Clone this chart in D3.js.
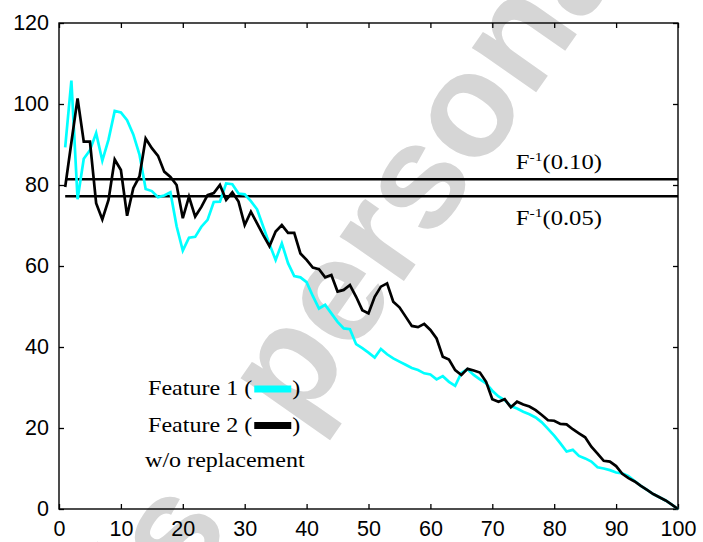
<!DOCTYPE html>
<html><head><meta charset="utf-8">
<script src="https://cdn.jsdelivr.net/npm/d3@7"></script>
<style>body{margin:0;background:#fff}svg{display:block}</style>
</head><body>
<svg id="chart" width="703" height="542"></svg>
<script>
const steps = d3.range(1, 101);
const feature1 = [89.3,105.8,76.5,86.5,88.6,92.8,86.0,91.2,98.3,97.9,
96.0,92.5,87.5,79.0,78.5,77.0,77.4,78.2,69.8,63.8,
67.0,67.2,69.7,71.4,75.8,75.9,80.4,80.2,77.9,77.7,
76.0,74.0,69.7,65.4,61.5,65.6,60.7,57.5,57.2,56.0,
52.6,49.5,50.4,48.3,46.2,44.6,44.4,40.7,39.7,38.6,
37.4,39.5,38.2,37.2,36.4,35.6,34.8,34.3,33.5,33.2,
32.0,32.8,31.4,30.4,33.6,34.5,33.1,32.0,31.0,29.2,
27.8,26.9,25.4,24.8,24.0,23.4,22.6,21.4,19.8,18.1,
16.2,14.2,14.6,13.1,12.5,11.7,10.3,10.0,9.6,9.0,
8.8,8.1,6.9,5.7,4.7,3.7,2.9,2.1,1.1,0];
const feature2 = [79.5,90.5,101.4,90.7,90.7,75.5,71.5,76.3,86.3,83.7,
72.4,79.2,82.1,91.5,89.1,87.2,83.3,82.0,80.0,71.8,
77.1,72.2,74.6,77.5,78.0,80.0,76.3,78.2,75.9,70.1,
73.4,70.5,67.6,64.9,68.5,70.1,68.2,68.2,63.1,61.5,
59.6,59.2,57.2,57.8,53.7,54.1,55.3,52.4,49.1,48.3,
52.4,54.9,55.7,51.2,49.8,47.5,45.2,44.9,45.7,44.2,
42.1,37.6,36.9,34.3,33.1,34.6,34.2,33.7,31.4,27.1,
26.5,27.1,25.1,26.5,25.8,25.3,24.4,23.2,21.9,21.8,
21.0,20.9,19.7,18.7,17.7,15.4,13.7,11.9,11.7,10.6,
8.7,7.6,6.8,5.7,4.7,3.7,2.9,2.1,1.1,0];
const thresholds = [81.4, 77.2];
const thresholdLabels = ["0.10", "0.05"];
const xTicks = [0,10,20,30,40,50,60,70,80,90,100];
const yTicks = [0,20,40,60,80,100,120];
const legendNames = ["Feature 1", "Feature 2"];
const legendNote = "w/o replacement";
const seriesColors = ["#00ffff", "#000000"];
const watermarkWords = ["Author's", "personal copy"];

const svg = d3.select("#chart");
const W = 703, H = 542;
const m = {left: 59, right: 25, top: 23, bottom: 33};
const x = d3.scaleLinear().domain([0, 100]).range([m.left, W - m.right]);
const y = d3.scaleLinear().domain([0, 120]).range([H - m.bottom, m.top]);

// watermark (behind everything)
const wmSize = 148;
const wm = svg.append("g").attr("transform", "translate(299,431) rotate(-55)")
  .attr("font-family", "Liberation Sans, Arial, sans-serif")
  .attr("font-weight", "bold").attr("font-size", wmSize).attr("fill", "#d6d6d6");
wm.append("text").attr("x", 0).text(watermarkWords[1]);
wm.append("text").attr("x", -(0.278 * wmSize + 75)).attr("text-anchor", "end").text(watermarkWords[0]);

const axisFont = "Liberation Sans, Arial, Helvetica, sans-serif";
const serif = "Liberation Serif, Times New Roman, serif";

// axes
const gx = svg.append("g").attr("transform", `translate(0,${H - m.bottom})`)
  .call(d3.axisBottom(x).tickValues(xTicks).tickSize(-5).tickPadding(12));
const gxt = svg.append("g").attr("transform", `translate(0,${m.top})`)
  .call(d3.axisTop(x).tickValues(xTicks).tickSize(-5).tickFormat(""));
const gy = svg.append("g").attr("transform", `translate(${m.left},0)`)
  .call(d3.axisLeft(y).tickValues(yTicks).tickSize(-5).tickPadding(10));
const gyr = svg.append("g").attr("transform", `translate(${W - m.right},0)`)
  .call(d3.axisRight(y).tickValues(yTicks).tickSize(-5).tickFormat(""));
[gx, gxt, gy, gyr].forEach(g => {
  g.select(".domain").remove();
  g.selectAll(".tick line").attr("stroke", "#000").attr("stroke-width", 1.3);
  g.selectAll("text").attr("font-family", axisFont).attr("font-size", 21.5).attr("fill", "#000");
});

// frame
svg.append("rect").attr("x", x(0)).attr("y", y(120))
  .attr("width", x(100) - x(0)).attr("height", y(0) - y(120))
  .attr("fill", "none").attr("stroke", "#000").attr("stroke-width", 1.4);

// threshold lines
thresholds.forEach((t, i) => {
  svg.append("line").attr("x1", x(1)).attr("x2", x(100))
    .attr("y1", y(t)).attr("y2", y(t))
    .attr("stroke", "#000").attr("stroke-width", 2.5);
  const ty = i === 0 ? y(t) - 10 : y(t) + 29;
  const g = svg.append("g").attr("transform", `translate(${x(73.8)},${ty}) scale(1.2,1)`);
  const tx = g.append("text").attr("x", 0).attr("y", 0)
    .attr("font-family", serif).attr("font-size", 20.5).attr("fill", "#000");
  tx.append("tspan").text("F");
  tx.append("tspan").attr("font-size", 13).attr("dy", -8).text("-1");
  tx.append("tspan").attr("dy", 8).text("(" + thresholdLabels[i] + ")");
});

// series lines
const line = d3.line().x((d, i) => x(steps[i])).y(d => y(d));
[feature1, feature2].forEach((s, k) => {
  svg.append("path").datum(s).attr("d", line)
    .attr("fill", "none").attr("stroke", seriesColors[k])
    .attr("stroke-width", 2.7).attr("stroke-linejoin", "miter");
});

// legend
const lx = 148, ly = [395, 431.5], sc = 1.12, lfs = 21.5;
legendNames.forEach((n, i) => {
  const g = svg.append("g").attr("transform", `translate(${lx},${ly[i]}) scale(${sc},1)`);
  const t = g.append("text").attr("x", 0).attr("y", 0)
    .attr("font-family", serif).attr("font-size", lfs).attr("fill", "#000")
    .text(n + " (");
  const w = t.node().getComputedTextLength() * sc;
  const sx = lx + w + 2;
  svg.append("rect").attr("x", sx).attr("y", ly[i] - 9.5)
    .attr("width", 37).attr("height", 7).attr("fill", seriesColors[i]);
  svg.append("g").attr("transform", `translate(${sx + 38},${ly[i]}) scale(${sc},1)`)
    .append("text").attr("font-family", serif).attr("font-size", lfs).attr("fill", "#000").text(")");
});
svg.append("g").attr("transform", `translate(145,467) scale(${sc},1)`)
  .append("text").attr("font-family", serif).attr("font-size", lfs).attr("fill", "#000").text(legendNote);
</script>
</body></html>
